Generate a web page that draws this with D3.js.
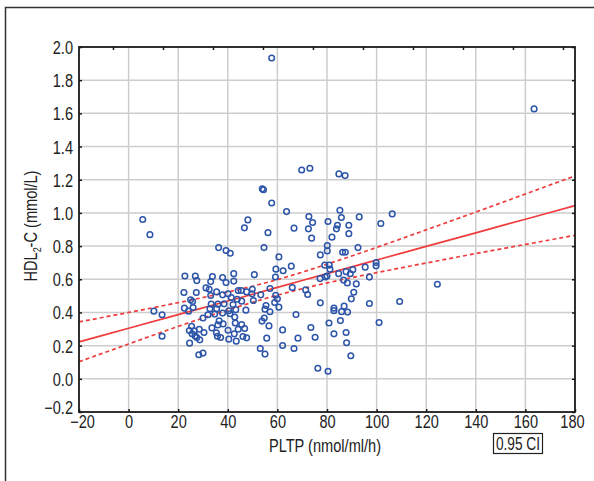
<!DOCTYPE html>
<html>
<head>
<meta charset="utf-8">
<script src="https://cdn.jsdelivr.net/npm/d3@7"></script>
<style>
  body { margin: 0; background: #fff; }
  text { font-family: "Liberation Sans", Arial, sans-serif; fill: #222; }
</style>
</head>
<body>
<svg id="chart" width="594" height="481"></svg>
<script>
// PLTP (nmol/ml/h) and HDL2-C (mmol/L), one entry per subject
const pltp = [
  5.7, 8.6, 36.3, 39.3, 41.0, 46.7, 48.1, 22.7, 26.9, 27.5, 33.8, 33.1, 37.9, 39.3, 42.4, 42.4,
  22.3, 27.3, 31.2, 32.5, 33.1, 35.5, 37.9, 40.1, 41.4, 44.2, 45.4, 47.6, 25.0, 25.8, 33.3, 36.0,
  38.5, 42.1, 43.8, 45.6, 22.5, 24.2, 26.0, 10.2, 13.5, 32.8, 35.5, 40.4, 43.2, 47.3, 30.0, 32.0,
  34.7, 37.9, 40.9, 42.8, 25.4, 24.5, 26.4, 28.5, 30.4, 33.6, 36.0, 36.5, 38.1, 40.1, 43.0, 44.2,
  45.6, 46.8, 25.6, 26.8, 27.5, 28.7, 35.4, 35.8, 37.1, 40.4, 43.4, 46.1, 47.6, 13.5, 24.6, 28.3,
  30.0, 42.6, 49.9, 49.8,
  57.7, 63.7, 56.2, 66.7, 72.7, 74.2, 72.5, 73.8, 85.2, 85.8, 93.0, 106.3, 101.7, 80.4, 84.2, 83.8,
  88.8, 88.8, 82.0, 80.1, 80.1, 77.3, 86.3, 87.4, 92.5, 54.6, 60.6, 65.6, 59.4, 62.3, 59.2, 50.7,
  79.1, 80.9, 81.2, 84.7, 87.7, 90.4, 89.4, 95.4, 99.8, 99.8, 97.1, 91.8, 88.2, 86.7, 79.3, 77.2,
  80.0, 90.8, 89.8, 66.0, 71.4, 72.2, 77.3, 97.1, 109.3, 57.0, 53.3, 50.3, 59.3, 60.0, 58.9, 60.6,
  55.4, 55.0, 57.0, 54.7, 53.8, 56.6, 67.5, 82.8, 82.8, 86.9, 85.9, 88.3, 85.4, 80.8, 73.5, 62.1,
  55.7, 75.2, 68.3, 82.8, 87.7, 87.9, 101.0, 62.1, 66.7, 53.1, 55.0, 89.6, 76.3, 80.4,
  57.7, 69.8, 73.1, 84.8, 87.3, 53.9, 54.4, 163.5, 124.5
];
const hdl2 = [
  0.960, 0.869, 0.791, 0.773, 0.757, 0.910, 0.958, 0.620, 0.620, 0.592, 0.616, 0.586, 0.610, 0.580, 0.634, 0.589,
  0.520, 0.520, 0.548, 0.540, 0.502, 0.524, 0.506, 0.512, 0.490, 0.532, 0.532, 0.524, 0.476, 0.466, 0.450, 0.450,
  0.452, 0.448, 0.480, 0.468, 0.426, 0.408, 0.430, 0.408, 0.386, 0.422, 0.422, 0.410, 0.417, 0.414, 0.367, 0.386,
  0.390, 0.396, 0.392, 0.372, 0.317, 0.291, 0.289, 0.299, 0.279, 0.307, 0.325, 0.349, 0.331, 0.293, 0.336, 0.299,
  0.327, 0.303, 0.271, 0.259, 0.249, 0.235, 0.277, 0.257, 0.249, 0.239, 0.227, 0.255, 0.247, 0.257, 0.215, 0.145,
  0.155, 0.271, 0.540, 0.512,
  1.060, 1.008, 0.881, 0.908, 0.978, 0.942, 0.904, 0.848, 1.016, 0.972, 0.976, 0.994, 0.936, 0.948, 0.926, 0.904,
  0.926, 0.875, 0.854, 0.803, 0.771, 0.747, 0.763, 0.763, 0.791, 0.791, 0.735, 0.679, 0.661, 0.651, 0.614, 0.628,
  0.685, 0.685, 0.661, 0.634, 0.646, 0.658, 0.633, 0.673, 0.701, 0.681, 0.613, 0.572, 0.578, 0.595, 0.614, 0.604,
  0.619, 0.522, 0.482, 0.550, 0.536, 0.508, 0.458, 0.454, 0.466, 0.544, 0.506, 0.472, 0.504, 0.482, 0.460, 0.432,
  0.442, 0.420, 0.404, 0.367, 0.348, 0.319, 0.387, 0.426, 0.411, 0.438, 0.405, 0.402, 0.351, 0.336, 0.309, 0.295,
  0.245, 0.251, 0.245, 0.271, 0.279, 0.217, 0.339, 0.201, 0.183, 0.183, 0.149, 0.139, 0.064, 0.046,
  1.934, 1.259, 1.269, 1.235, 1.225, 1.145, 1.140, 1.627, 0.570
];

// fitted line and 0.95 confidence band, read at these x positions
const fitX    = [-20, 0, 20, 40, 60, 80, 100, 120, 140, 160, 180];
const fitY    = [0.223, 0.305, 0.387, 0.469, 0.551, 0.634, 0.716, 0.798, 0.880, 0.962, 1.044];
const ciUpper = [0.343, 0.400, 0.459, 0.523, 0.598, 0.691, 0.792, 0.898, 1.005, 1.114, 1.223];
const ciLower = [0.103, 0.210, 0.316, 0.415, 0.504, 0.578, 0.640, 0.698, 0.755, 0.810, 0.865];

const xTicks = [-20, 0, 20, 40, 60, 80, 100, 120, 140, 160, 180];
const yTicks = [-0.2, 0.0, 0.2, 0.4, 0.6, 0.8, 1.0, 1.2, 1.4, 1.6, 1.8, 2.0];
const topTicks = d3.range(-6.3, 180, 20.16);

const svg = d3.select('#chart');
const plotL = 79, plotR = 575, plotT = 47, plotB = 412;
const squeeze = 0.81; // narrow look of the original condensed font

const x = d3.scaleLinear().domain([-20, 180]).range([plotL, plotR]);
const y = d3.scaleLinear().domain([-0.2, 2.0]).range([plotB, plotT]);

// compress a text horizontally, keeping its anchor
function condense(sel, k = squeeze) {
  sel.each(function() {
    const len = this.getComputedTextLength();
    d3.select(this).attr('textLength', len * k).attr('lengthAdjust', 'spacingAndGlyphs');
  });
}

svg.append('rect').attr('width', 594).attr('height', 481).attr('fill', '#fff');

// outer frame (only top and left visible)
svg.append('path')
  .attr('d', 'M5.5,481V7.5H594')
  .attr('fill', 'none')
  .attr('stroke', '#333')
  .attr('stroke-width', 1.5);

// grid
svg.append('g')
  .selectAll('line')
  .data(xTicks.slice(1, -1))
  .join('line')
    .attr('x1', d => x(d)).attr('x2', d => x(d))
    .attr('y1', plotT).attr('y2', plotB)
    .attr('stroke', '#cdcdcd').attr('stroke-width', 1.5);

svg.append('g')
  .selectAll('line')
  .data(yTicks.slice(1, -1))
  .join('line')
    .attr('x1', plotL).attr('x2', plotR)
    .attr('y1', d => y(d)).attr('y2', d => y(d))
    .attr('stroke', '#cdcdcd').attr('stroke-width', 1.5);

// regression and confidence band
const line = d3.line()
  .x((d, i) => x(fitX[i]))
  .y(d => y(d))
  .curve(d3.curveNatural);

svg.append('path')
  .attr('d', line(fitY))
  .attr('fill', 'none').attr('stroke', '#f03c3c').attr('stroke-width', 1.7);

[ciUpper, ciLower].forEach(band => {
  svg.append('path')
    .attr('d', line(band))
    .attr('fill', 'none').attr('stroke', '#f03c3c').attr('stroke-width', 1.7)
    .attr('stroke-dasharray', '4,3');
});

// points
svg.append('g')
  .selectAll('circle')
  .data(pltp)
  .join('circle')
    .attr('cx', d => x(d))
    .attr('cy', (d, i) => y(hdl2[i]))
    .attr('r', 2.8)
    .attr('fill', 'none')
    .attr('stroke', '#2c54a8')
    .attr('stroke-width', 1.5);

// frame
svg.append('rect')
  .attr('x', plotL).attr('y', plotT)
  .attr('width', plotR - plotL).attr('height', plotB - plotT)
  .attr('fill', 'none').attr('stroke', '#1a1a1a').attr('stroke-width', 1.8);

const tickStyle = g => {
  g.select('.domain').remove();
  g.selectAll('.tick line').attr('stroke', '#1a1a1a').attr('stroke-width', 1.5);
  g.selectAll('.tick text').style('font-size', '18px').attr('fill', '#222').call(condense);
};

svg.append('g')
  .attr('transform', `translate(0,${plotB})`)
  .call(d3.axisBottom(x).tickValues(xTicks).tickSize(-3).tickPadding(3).tickFormat(d3.format('d')))
  .call(g => g.selectAll('.tick text')
    .attr('dx', d => d === xTicks[0] ? 3 : d === xTicks[xTicks.length - 1] ? -3 : 0))
  .call(tickStyle);

svg.append('g')
  .attr('transform', `translate(${plotL},0)`)
  .call(d3.axisLeft(y).tickValues(yTicks).tickSize(-3).tickPadding(6).tickFormat(d3.format('.1f')))
  .call(g => g.selectAll('.tick text').attr('dy', d => d === yTicks[0] ? '0.1em' : '0.36em'))
  .call(tickStyle);

svg.append('g')
  .attr('transform', `translate(0,${plotT})`)
  .call(d3.axisTop(x).tickValues(topTicks).tickSize(-3).tickFormat(''))
  .call(tickStyle);

svg.append('g')
  .attr('transform', `translate(${plotR},0)`)
  .call(d3.axisRight(y).tickValues(yTicks).tickSize(-3).tickFormat(''))
  .call(tickStyle);

// axis titles
svg.append('text')
  .attr('x', 325).attr('y', 452)
  .attr('text-anchor', 'middle')
  .style('font-size', '18px')
  .text('PLTP (nmol/ml/h)')
  .call(condense);

const yt = svg.append('text')
  .attr('transform', `translate(37,226) rotate(-90) scale(${squeeze},1)`)
  .attr('text-anchor', 'middle')
  .style('font-size', '18px');
yt.append('tspan').text('HDL');
yt.append('tspan').attr('dy', 3.5).style('font-size', '11px').text('2');
yt.append('tspan').attr('dy', -3.5).text('-C (mmol/L)');

// legend box
svg.append('rect')
  .attr('x', 493.5).attr('y', 433.5)
  .attr('width', 49).attr('height', 20)
  .attr('fill', 'none').attr('stroke', '#222').attr('stroke-width', 1.2);
svg.append('text')
  .attr('x', 518).attr('y', 450)
  .attr('text-anchor', 'middle')
  .style('font-size', '18px')
  .text('0.95 CI')
  .call(condense, 0.76);
</script>
</body>
</html>
